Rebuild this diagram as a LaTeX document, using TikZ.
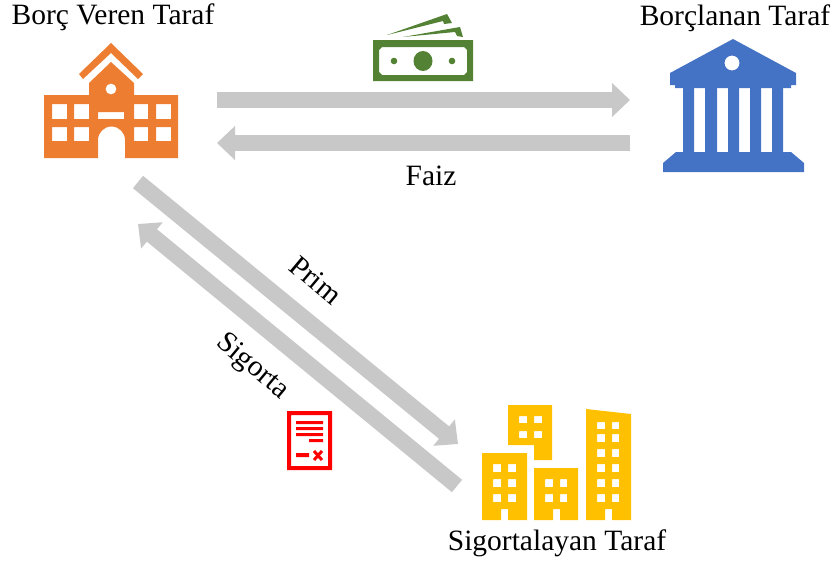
\documentclass[tikz,border=0pt]{standalone}
\usepackage{fontspec}
\setmainfont{Liberation Serif}
\usetikzlibrary{arrows.meta}

\definecolor{schoolcol}{HTML}{ED7D31}
\definecolor{bankcol}{HTML}{4472C4}
\definecolor{cashcol}{HTML}{548235}
\definecolor{towncol}{HTML}{FFC000}
\definecolor{flowcol}{HTML}{C8C8C8}

\begin{document}
\begin{tikzpicture}[x=1pt, y=-1pt,
    party/.style = {inner sep=0pt, font=\fontsize{29.5}{32}\selectfont},
    flow/.style = {draw=flowcol, line width=16pt, -{Triangle[width=33pt, length=18pt]}}]
    \useasboundingbox (0,0) rectangle (832,565);

    % Arrow ends
    \coordinate (a1) at (217,100);
    \coordinate (a2) at (630,100);
    \coordinate (b1) at (630,143);
    \coordinate (b2) at (217,143);
    \coordinate (c1) at (138,182);
    \coordinate (c2) at (458,444);
    \coordinate (d1) at (457,486);
    \coordinate (d2) at (138,224);

    % Arrows
    \draw[flow] (a1) -- (a2);
    \draw[flow] (b1) -- (b2);
    \draw[flow] (c1) -- (c2);
    \draw[flow] (d1) -- (d2);

    % Labels
    \node[party] (lender) at (113,17) {Borç Veren Taraf};
    \node[party] (borrower) at (735,18) {Borçlanan Taraf};
    \node[party] (insurer) at (557,543) {Sigortalayan Taraf};
    \node[party] (faiz) at (431,176) {Faiz};
    \node[party, rotate=-40] (prim) at (316,280) {Prim};
    \node[party, rotate=-40] (sigorta) at (252,367) {Sigorta};

    % School
    \fill[schoolcol] (79,74) -- (111,43) -- (143,74) -- (138,79) -- (111,53) -- (83,79) -- cycle;
    \fill[schoolcol, even odd rule] (89,95) -- (89,83) -- (111,62) -- (134,83) -- (134,95) -- (178,95) -- (178,158) -- (125,158) -- (125,140) arc (0:-180:13.5) -- (98,158) -- (44,158) -- (44,95) -- cycle
        (111,89) circle (5.5)
        (52,104) rectangle (67,119) (74,104) rectangle (89,119)
        (134,104) rectangle (148,119) (156,104) rectangle (171,119)
        (52,127) rectangle (67,141) (74,127) rectangle (89,141)
        (134,127) rectangle (148,141) (156,127) rectangle (171,141)
        (98,112) rectangle (124,119);

    % Bank
    \fill[bankcol, even odd rule] (733,39) -- (796,73) -- (796,85) -- (791,85) -- (791,88) -- (675,88) -- (675,85) -- (670,85) -- (670,73) -- cycle (732,63) circle (7.5);
    \fill[bankcol] (683,88) rectangle (694,152) (705,88) rectangle (717,152) (728,88) rectangle (739,152) (750,88) rectangle (761,152) (772,88) rectangle (783,152);
    \fill[bankcol] (676,152) -- (791,152) -- (804,163) -- (804,172) -- (663,172) -- (663,163) -- cycle;

    % Cash
    \fill[cashcol, even odd rule] (373,40) rectangle (473,81)
        (382,47) -- (464,47) -- (467,50) -- (467,72) -- (464,75) -- (382,75) -- (379,72) -- (379,50) -- cycle;
    \fill[cashcol] (423,61) ellipse (9.5 and 10) (394,61) circle (3.3) (452,61) circle (3.3);
    \fill[cashcol] (387,35) -- (447,14) -- (452,23) -- (444,24) -- (443,21) -- cycle;
    \fill[cashcol] (403,37) -- (460,27) -- (463,37) -- (457,36) -- (455,32) -- cycle;

    % Policy
    \fill[red, even odd rule] (287,411) rectangle (332,470) (291,415) rectangle (328,466);
    \fill[red] (296,421) rectangle (323,424) (296,427) rectangle (323,430) (296,433) rectangle (323,436) (309,439) rectangle (323,442) (296,453) rectangle (309,457);
    \draw[red, line width=3pt] (314,451) -- (322,460) (322,451) -- (314,460);

    % Town
    \fill[towncol, even odd rule] (508,405) -- (552,405) -- (552,460) -- (534,460) -- (534,445) -- (508,445) -- cycle
        (519,416) rectangle (527,423) (534,416) rectangle (542,423)
        (519,431) rectangle (527,438) (534,431) rectangle (542,438);
    \fill[towncol, even odd rule] (482,453) -- (527,453) -- (527,520) -- (508,520) -- (508,509) -- (501,509) -- (501,520) -- (482,520) -- cycle
        (493,464) rectangle (501,472) (508,464) rectangle (516,472)
        (493,479) rectangle (501,487) (508,479) rectangle (516,487)
        (493,494) rectangle (501,502) (508,494) rectangle (516,502);
    \fill[towncol, even odd rule] (534,468) -- (578,468) -- (578,520) -- (560,520) -- (560,509) -- (553,509) -- (553,520) -- (534,520) -- cycle
        (545,479) rectangle (553,487) (560,479) rectangle (567,487)
        (545,494) rectangle (553,502) (560,494) rectangle (567,502);
    \fill[towncol, even odd rule] (586,409) -- (631,414) -- (631,520) -- (612,520) -- (612,509) -- (605,509) -- (605,520) -- (586,520) -- cycle
        (597,422) rectangle (605,429) (612,422) rectangle (619,429)
        (597,434) rectangle (605,442) (612,434) rectangle (619,442)
        (597,449) rectangle (605,457) (612,449) rectangle (619,457)
        (597,464) rectangle (605,472) (612,464) rectangle (619,472)
        (597,479) rectangle (605,487) (612,479) rectangle (619,487)
        (597,494) rectangle (605,502) (612,494) rectangle (619,502);
\end{tikzpicture}
\end{document}
